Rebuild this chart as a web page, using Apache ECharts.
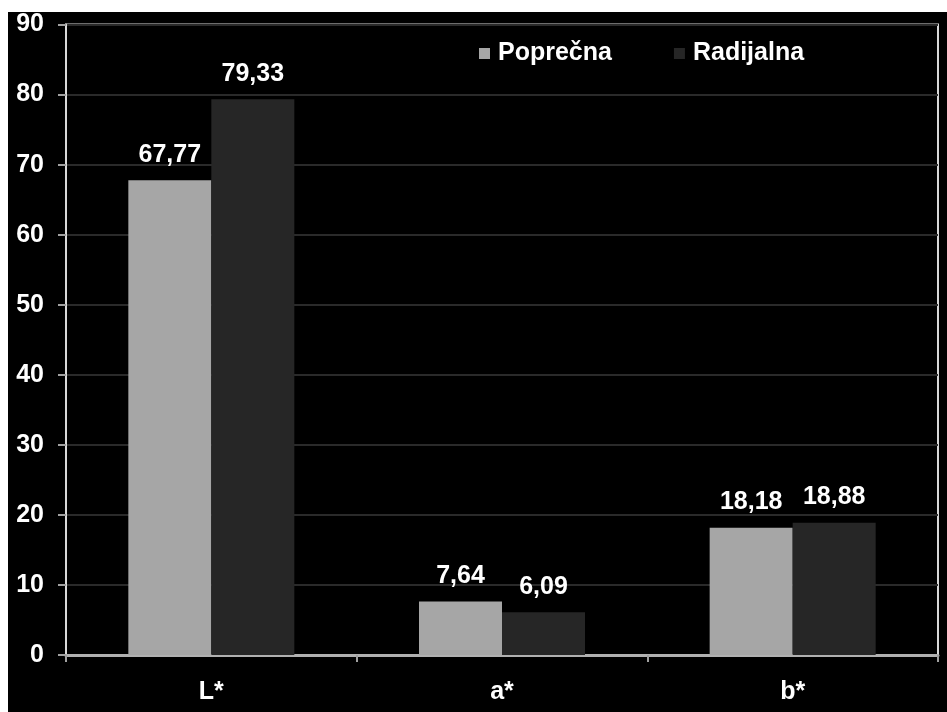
<!DOCTYPE html>
<html>
<head>
<meta charset="utf-8">
<script src="https://cdn.jsdelivr.net/npm/echarts@6/dist/echarts.min.js"></script>
<style>
  html, body { margin: 0; padding: 0; background: #ffffff; width: 947px; height: 712px; overflow: hidden; }
  #chart { position: absolute; left: 8px; top: 12px; width: 939px; height: 700px; background: #000000; }
</style>
</head>
<body>
<div id="chart"></div>
<script>
// Colour components per cut direction
const categories = ['L*', 'a*', 'b*'];
const seriesNames = ['Poprečna', 'Radijalna'];
const poprecna = [67.77, 7.64, 18.18];
const radijalna = [79.33, 6.09, 18.88];
const yTicks = { min: 0, max: 90, interval: 10 };

const colors = ['#a6a6a6', '#262626'];
const font = '"Liberation Sans", Arial, sans-serif';

// decimal comma for value labels
const fmt = p => String(p.value.toFixed(2)).replace('.', ',');

const chart = echarts.init(document.getElementById('chart'), null, { renderer: 'canvas' });

chart.setOption({
  backgroundColor: '#000000',
  animation: false,
  grid: {
    left: 58, top: 10, right: 9, bottom: 57,
    show: true, borderColor: '#d9d9d9', borderWidth: 2, backgroundColor: 'transparent'
  },
  legend: {
    left: 466, top: 24,
    icon: 'rect', itemWidth: 11, itemHeight: 11, itemGap: 62,
    textStyle: { color: '#ffffff', fontSize: 25, fontWeight: 'bold', fontFamily: font, padding: [0, 0, 0, 3] },
    data: seriesNames
  },
  xAxis: {
    type: 'category',
    data: categories,
    axisLine: { lineStyle: { color: '#b0b0b0', width: 3 } },
    axisTick: { show: true, length: 7, lineStyle: { color: '#a0a0a0', width: 2 } },
    axisLabel: { color: '#ffffff', fontSize: 25, fontWeight: 'bold', fontFamily: font, margin: 25 },
    splitLine: { show: false }
  },
  yAxis: {
    type: 'value',
    min: yTicks.min, max: yTicks.max, interval: yTicks.interval,
    axisLine: { show: true, lineStyle: { color: '#d9d9d9', width: 2 } },
    axisTick: { show: true, length: 8, lineStyle: { color: '#a0a0a0', width: 2 } },
    axisLabel: { color: '#ffffff', fontSize: 25, fontWeight: 'bold', fontFamily: font, margin: 22 },
    splitLine: { show: true, lineStyle: { color: '#2a2a2a', width: 2 } }
  },
  series: [
    {
      name: seriesNames[0], type: 'bar', data: poprecna,
      barWidth: 83, barGap: '0%',
      itemStyle: { color: colors[0] },
      label: { show: true, position: 'top', distance: 13, formatter: fmt,
               color: '#ffffff', fontSize: 25, fontWeight: 'bold', fontFamily: font }
    },
    {
      name: seriesNames[1], type: 'bar', data: radijalna,
      barWidth: 83, barGap: '0%',
      itemStyle: { color: colors[1] },
      label: { show: true, position: 'top', distance: 13, formatter: fmt,
               color: '#ffffff', fontSize: 25, fontWeight: 'bold', fontFamily: font }
    }
  ]
});
</script>
</body>
</html>
